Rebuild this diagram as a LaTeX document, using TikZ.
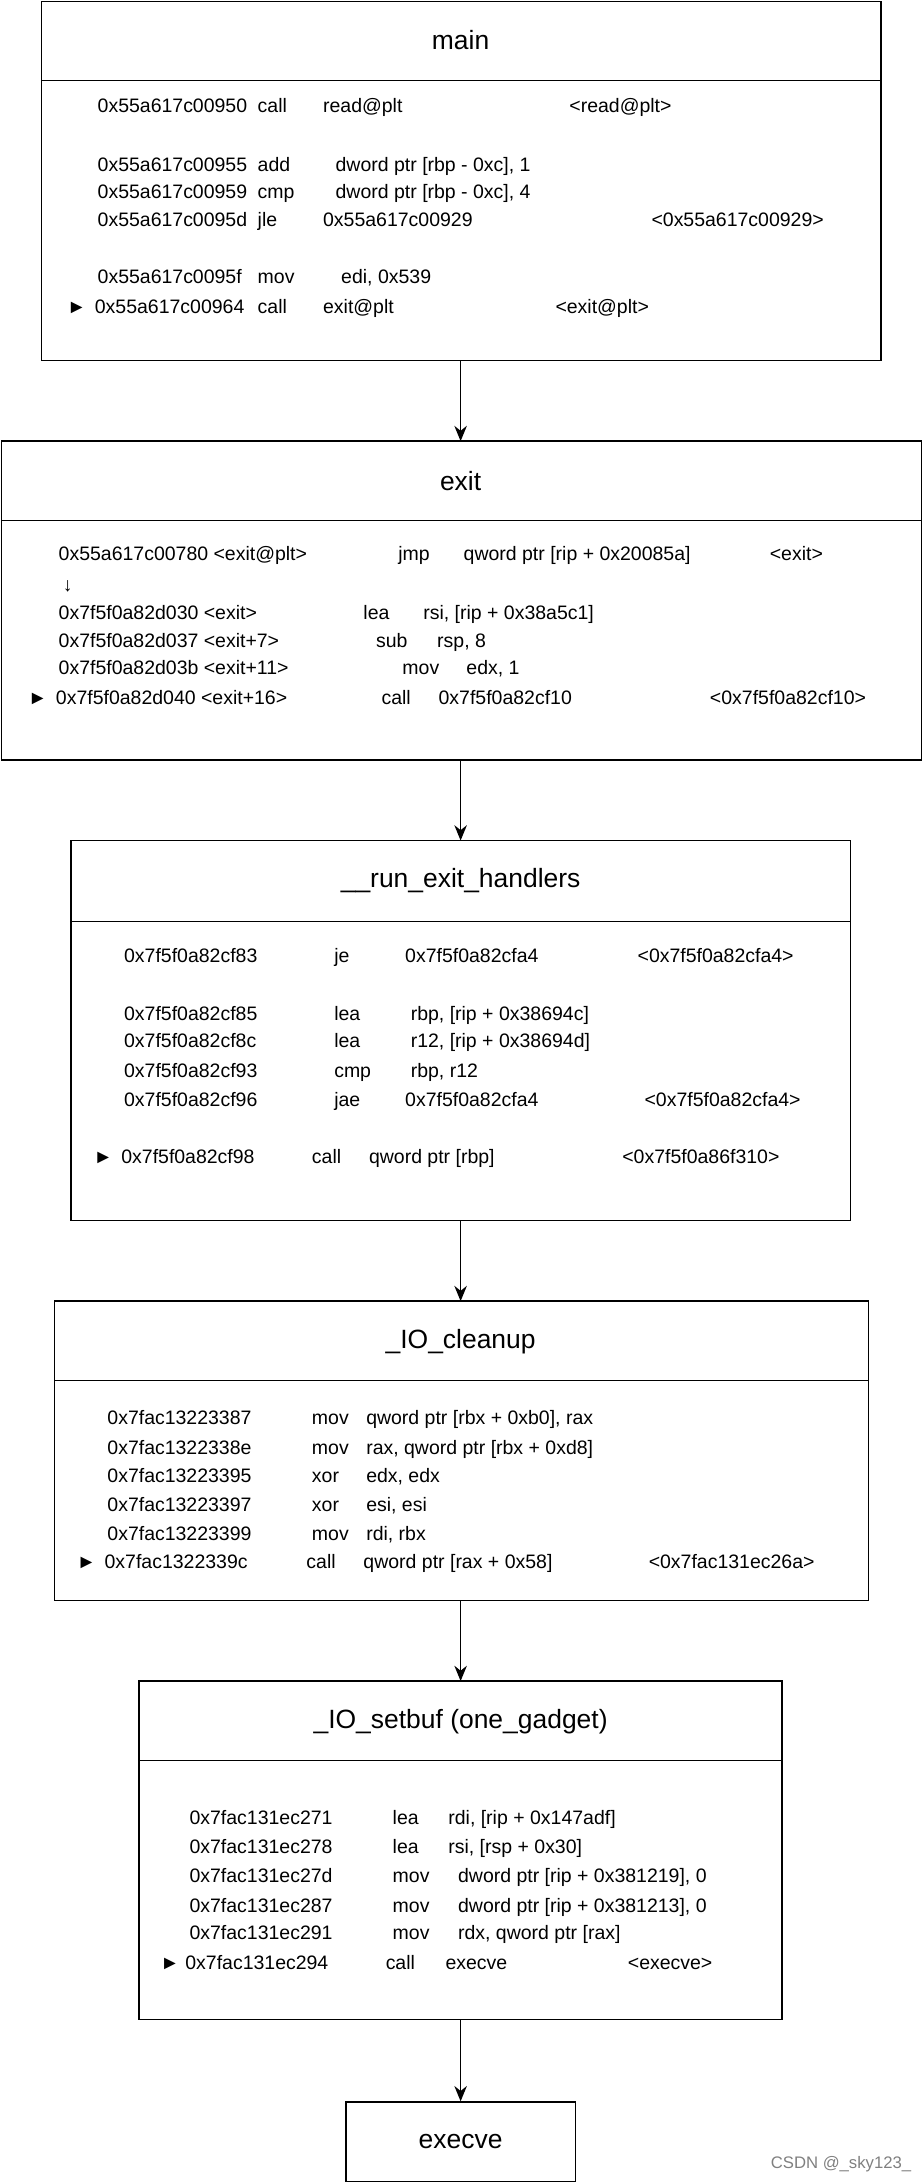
\documentclass[tikz,border=0pt]{standalone}
\usepackage{fontspec}
\setmainfont{Liberation Sans}
\usetikzlibrary{arrows.meta,positioning}
\newcommand{\seg}[3]{\node[asm] at (#1,#2) {#3};}
\begin{document}
\begin{tikzpicture}[x=1pt,y=-1pt,>={Stealth[length=11pt,width=9pt]},
  box/.style={draw,line width=1pt},
  head/.style={font=\fontsize{19}{22}\selectfont},
  asm/.style={anchor=base west,inner sep=0pt,font=\fontsize{14}{16}\selectfont},
  flow/.style={->,line width=1pt}]
\useasboundingbox (0,0) rectangle (663,1568);
% boxes
\draw[box] (30,1) rectangle (633,259); \draw[box] (30,58) -- (633,58);
\node[head] (main) at (331,29) {main};
\draw[box] (1,317) rectangle (662,546); \draw[box] (1,374) -- (662,374);
\node[head] (exit) at (331,346) {exit};
\draw[box] (51,604) rectangle (611,877); \draw[box] (51,662) -- (611,662);
\node[head] (reh) at (331,633) {\_\_run\_exit\_handlers};
\draw[box] (39,935) rectangle (624,1150); \draw[box] (39,992) -- (624,992);
\node[head] (cleanup) at (331,964) {\_IO\_cleanup};
\draw[box] (100,1208) rectangle (562,1451); \draw[box] (100,1265) -- (562,1265);
\node[head] (setbuf) at (331,1237) {\_IO\_setbuf (one\_gadget)};
\node[draw,line width=1pt,minimum width=165pt,minimum height=57pt,head] (execve) at (331,1539) {execve};
% connectors
\coordinate (m) at (331,259); \coordinate (e1) at (331,317);
\coordinate (e) at (331,546); \coordinate (r1) at (331,604);
\coordinate (r) at (331,877); \coordinate (c1) at (331,935);
\coordinate (c) at (331,1150); \coordinate (s1) at (331,1208);
\coordinate (s) at (331,1451);
\draw[flow] (m) -- (e1);
\draw[flow] (e) -- (r1);
\draw[flow] (r) -- (c1);
\draw[flow] (c) -- (s1);
\draw[flow] (s) -- (execve);
% main
\seg{70}{81}{0x55a617c00950}\seg{185}{81}{call}\seg{232}{81}{read@plt}\seg{409}{81}{<read@plt>}
\seg{70}{123}{0x55a617c00955}\seg{185}{123}{add}\seg{241}{123}{dword ptr [rbp - 0xc], 1}
\seg{70}{143}{0x55a617c00959}\seg{185}{143}{cmp}\seg{241}{143}{dword ptr [rbp - 0xc], 4}
\seg{70}{163}{0x55a617c0095d}\seg{185}{163}{jle}\seg{232}{163}{0x55a617c00929}\seg{468}{163}{<0x55a617c00929>}
\seg{70}{204}{0x55a617c0095f}\seg{185}{204}{mov}\seg{245}{204}{edi, 0x539}
\seg{48}{225}{►}\seg{68}{225}{0x55a617c00964}\seg{185}{225}{call}\seg{232}{225}{exit@plt}\seg{399}{225}{<exit@plt>}
% exit
\seg{42}{403}{0x55a617c00780 <exit@plt>}\seg{286}{403}{jmp}\seg{333}{403}{qword ptr [rip + 0x20085a]}\seg{553}{403}{<exit>}
\seg{45}{425}{↓}
\seg{42}{445}{0x7f5f0a82d030 <exit>}\seg{261}{445}{lea}\seg{304}{445}{rsi, [rip + 0x38a5c1]}
\seg{42}{465}{0x7f5f0a82d037 <exit+7>}\seg{270}{465}{sub}\seg{314}{465}{rsp, 8}
\seg{42}{485}{0x7f5f0a82d03b <exit+11>}\seg{289}{485}{mov}\seg{335}{485}{edx, 1}
\seg{20}{506}{►}\seg{40}{506}{0x7f5f0a82d040 <exit+16>}\seg{274}{506}{call}\seg{315}{506}{0x7f5f0a82cf10}\seg{510}{506}{<0x7f5f0a82cf10>}
% __run_exit_handlers
\seg{89}{692}{0x7f5f0a82cf83}\seg{240}{692}{je}\seg{291}{692}{0x7f5f0a82cfa4}\seg{458}{692}{<0x7f5f0a82cfa4>}
\seg{89}{733}{0x7f5f0a82cf85}\seg{240}{733}{lea}\seg{295}{733}{rbp, [rip + 0x38694c]}
\seg{89}{753}{0x7f5f0a82cf8c}\seg{240}{753}{lea}\seg{295}{753}{r12, [rip + 0x38694d]}
\seg{89}{774}{0x7f5f0a82cf93}\seg{240}{774}{cmp}\seg{295}{774}{rbp, r12}
\seg{89}{795}{0x7f5f0a82cf96}\seg{240}{795}{jae}\seg{291}{795}{0x7f5f0a82cfa4}\seg{463}{795}{<0x7f5f0a82cfa4>}
\seg{67}{836}{►}\seg{87}{836}{0x7f5f0a82cf98}\seg{224}{836}{call}\seg{265}{836}{qword ptr [rbp]}\seg{447}{836}{<0x7f5f0a86f310>}
% _IO_cleanup
\seg{77}{1024}{0x7fac13223387}\seg{224}{1024}{mov}\seg{263}{1024}{qword ptr [rbx + 0xb0], rax}
\seg{77}{1045}{0x7fac1322338e}\seg{224}{1045}{mov}\seg{263}{1045}{rax, qword ptr [rbx + 0xd8]}
\seg{77}{1065}{0x7fac13223395}\seg{224}{1065}{xor}\seg{263}{1065}{edx, edx}
\seg{77}{1086}{0x7fac13223397}\seg{224}{1086}{xor}\seg{263}{1086}{esi, esi}
\seg{77}{1107}{0x7fac13223399}\seg{224}{1107}{mov}\seg{263}{1107}{rdi, rbx}
\seg{55}{1127}{►}\seg{75}{1127}{0x7fac1322339c}\seg{220}{1127}{call}\seg{261}{1127}{qword ptr [rax + 0x58]}\seg{466}{1127}{<0x7fac131ec26a>}
% _IO_setbuf
\seg{136}{1311}{0x7fac131ec271}\seg{282}{1311}{lea}\seg{322}{1311}{rdi, [rip + 0x147adf]}
\seg{136}{1332}{0x7fac131ec278}\seg{282}{1332}{lea}\seg{322}{1332}{rsi, [rsp + 0x30]}
\seg{136}{1353}{0x7fac131ec27d}\seg{282}{1353}{mov}\seg{329}{1353}{dword ptr [rip + 0x381219], 0}
\seg{136}{1374}{0x7fac131ec287}\seg{282}{1374}{mov}\seg{329}{1374}{dword ptr [rip + 0x381213], 0}
\seg{136}{1394}{0x7fac131ec291}\seg{282}{1394}{mov}\seg{329}{1394}{rdx, qword ptr [rax]}
\seg{115}{1415}{►}\seg{133}{1415}{0x7fac131ec294}\seg{277}{1415}{call}\seg{320}{1415}{execve}\seg{451}{1415}{<execve>}
% watermark
\node[anchor=base east,inner sep=0pt,text=gray,font=\fontsize{12}{14}\selectfont] (mark) at (655,1558) {CSDN @\_sky123\_};
\end{tikzpicture}
\end{document}
